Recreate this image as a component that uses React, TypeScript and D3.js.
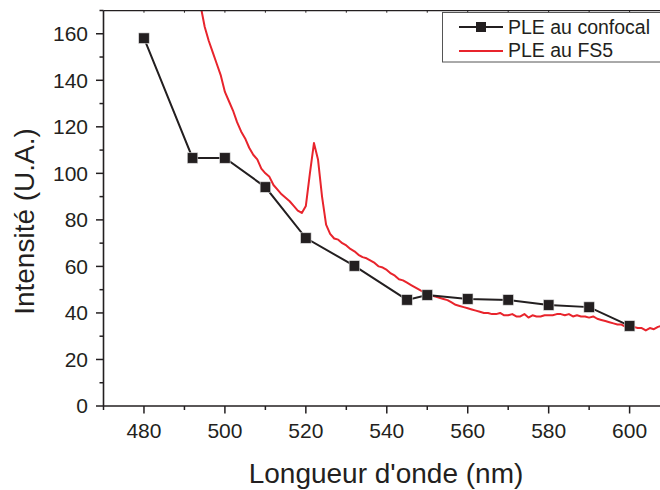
import React from "react";
import * as d3 from "d3";

const confocalX = [480, 492, 500, 510, 520, 532, 545, 550, 560, 570, 580, 590, 600];
const confocalY = [158.1, 106.6, 106.6, 94.1, 72.2, 60.2, 45.6, 47.7, 46.0, 45.6, 43.4, 42.5, 34.4];

const fs5X = [
  493, 494, 495, 496, 497, 498, 499, 500, 501, 502, 503, 504, 505, 506, 507, 508, 509, 510,
  511, 512, 513, 514, 515, 516, 517, 518, 519, 520, 521, 522, 523, 524, 525, 526, 527, 528,
  529, 530, 531, 532, 533, 534, 535, 536, 537, 538, 539, 540, 541, 542, 543, 544, 545, 546,
  547, 548, 549, 550, 551, 552, 553, 554, 555, 556, 557, 558, 559, 560, 561, 562, 563, 564,
  565, 566, 567, 568, 569, 570, 571, 572, 573, 574, 575, 576, 577, 578, 579, 580, 581, 582,
  583, 584, 585, 586, 587, 588, 589, 590, 591, 592, 593, 594, 595, 596, 597, 598, 599, 600,
  601, 602, 603, 604, 605, 606, 607, 608,
];
const fs5Y = [
  180, 172, 163, 157, 152, 147, 142, 135, 131, 127, 122, 118, 115, 111, 108, 106, 102, 100,
  98.5, 95, 93, 91, 89.5, 88, 86, 84, 83, 86, 100, 113, 106, 90, 78, 74, 72, 71.5,
  70, 69, 67.5, 66.5, 65, 64, 63.5, 62.5, 61.5, 60, 59.5, 58.5, 57, 56, 54.5, 54, 53, 52,
  51, 50, 49, 48.5, 47.5, 47, 46.5, 46, 45.5, 44.5, 43.5, 43, 42.5, 42, 41.5, 41, 40.5, 40,
  40, 39.5, 39.5, 40, 39, 39, 39.5, 38.5, 38.5, 39.5, 38, 39, 38.5, 38.5, 39, 39, 39, 39.5,
  39.5, 39, 39.5, 38.5, 39, 38.5, 38.5, 38, 38.5, 37.5, 37, 36.5, 36, 35.5, 35, 35, 34, 33.5,
  34, 33.5, 33.5, 32.5, 33.5, 33, 34, 34.5,
];

const xMajorTicks = [480, 500, 520, 540, 560, 580, 600];
const xMinorTicks = [470, 490, 510, 530, 550, 570, 590];
const yMajorTicks = [0, 20, 40, 60, 80, 100, 120, 140, 160];
const yMinorTicks = [10, 30, 50, 70, 90, 110, 130, 150, 170];

const legendLabels = ["PLE au confocal", "PLE au FS5"];
const xTitle = "Longueur d'onde (nm)";
const yTitle = "Intensité (U.A.)";

const W = 660;
const H = 490;
const left = 103.5;
const right = 662;
const top = 10.7;
const bottom = 406;

const INK = "#231f20";
const RED = "#e8242c";
const FONT = "'Liberation Sans', Arial, sans-serif";

export default function App() {
  const x = d3.scaleLinear().domain([470, 608]).range([left, left + 138 * 4.047]);
  const y = d3.scaleLinear().domain([0, 170]).range([bottom, bottom - 170 * 2.3265]);

  const confocal = confocalX.map((v, i) => [v, confocalY[i]] as [number, number]);
  const fs5 = fs5X.map((v, i) => [v, fs5Y[i]] as [number, number]);

  const line = d3
    .line<[number, number]>()
    .x((d) => x(d[0]))
    .y((d) => y(d[1]));

  const ms = 10.5;

  return (
    <svg
      width={W}
      height={H}
      style={{ position: "absolute", left: 0, top: 0, background: "#fff", fontFamily: FONT }}
    >
      <defs>
        <clipPath id="plot">
          <rect x={left} y={top} width={right - left} height={bottom - top} />
        </clipPath>
      </defs>
      <rect x={0} y={0} width={W} height={H} fill="#fff" />

      {/* data */}
      <g clipPath="url(#plot)">
        <path d={line(fs5) || ""} fill="none" stroke={RED} strokeWidth={2} strokeLinejoin="round" />
        <path d={line(confocal) || ""} fill="none" stroke={INK} strokeWidth={2} />
      </g>
      <g>
        {confocal.map((d, i) => (
          <rect
            key={i}
            x={x(d[0]) - ms / 2}
            y={y(d[1]) - ms / 2}
            width={ms}
            height={ms}
            fill={INK}
            stroke="#ddd"
            strokeWidth={0.6}
          />
        ))}
      </g>

      {/* axes lines */}
      <line x1={left} x2={right} y1={top} y2={top} stroke={INK} strokeWidth={1.3} />
      <line x1={left} x2={left} y1={top} y2={bottom} stroke={INK} strokeWidth={1.6} />
      <line x1={left} x2={right} y1={bottom} y2={bottom} stroke={INK} strokeWidth={1.6} />

      {/* x ticks */}
      {xMajorTicks.map((t) => (
        <g key={"xM" + t}>
          <line x1={x(t)} x2={x(t)} y1={bottom} y2={bottom + 7.5} stroke={INK} strokeWidth={1.5} />
          <line x1={x(t)} x2={x(t)} y1={top} y2={top + 2} stroke={INK} strokeWidth={1} />
          <text x={x(t)} y={438} textAnchor="middle" fontSize={21} fill={INK}>
            {t}
          </text>
        </g>
      ))}
      {xMinorTicks.map((t) => (
        <g key={"xm" + t}>
          <line x1={x(t)} x2={x(t)} y1={bottom} y2={bottom + 4} stroke={INK} strokeWidth={1.5} />
          <line x1={x(t)} x2={x(t)} y1={top} y2={top + 2} stroke={INK} strokeWidth={1} />
        </g>
      ))}

      {/* y ticks */}
      {yMajorTicks.map((t) => (
        <g key={"yM" + t}>
          <line x1={left - 7.5} x2={left} y1={y(t)} y2={y(t)} stroke={INK} strokeWidth={1.5} />
          <text x={88} y={y(t)} dy="0.35em" textAnchor="end" fontSize={21} fill={INK}>
            {t}
          </text>
        </g>
      ))}
      {yMinorTicks.map((t) => (
        <line key={"ym" + t} x1={left - 4} x2={left} y1={y(t)} y2={y(t)} stroke={INK} strokeWidth={1.5} />
      ))}

      {/* titles */}
      <text x={386} y={483} textAnchor="middle" fontSize={28} fill={INK}>
        {xTitle}
      </text>
      <text transform={`translate(33.5, 221.5) rotate(-90)`} textAnchor="middle" fontSize={28} fill={INK}>
        {yTitle}
      </text>

      {/* legend */}
      <g>
        <rect x={442.5} y={12.5} width={230} height={49.5} fill="#fff" stroke="#555" strokeWidth={1} />
        <line x1={459} x2={503} y1={27} y2={27} stroke={INK} strokeWidth={2} />
        <rect x={481 - 5} y={27 - 5} width={10} height={10} fill={INK} />
        <text x={508} y={34} fontSize={19.5} fill={INK}>
          {legendLabels[0]}
        </text>
        <line x1={459} x2={503} y1={51} y2={51} stroke={RED} strokeWidth={2} />
        <text x={508} y={57} fontSize={19.5} fill={INK}>
          {legendLabels[1]}
        </text>
      </g>
    </svg>
  );
}
